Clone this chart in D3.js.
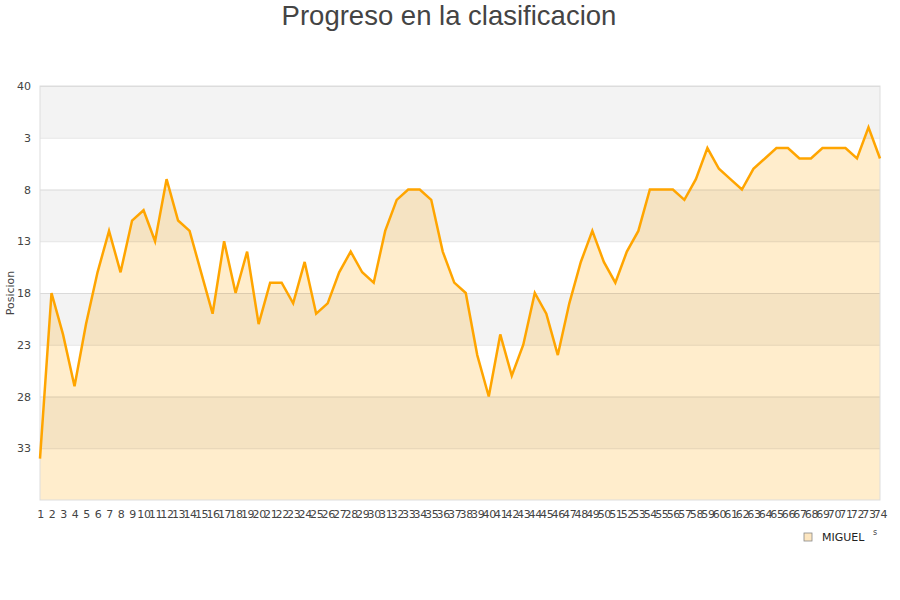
<!DOCTYPE html>
<html>
<head>
<meta charset="utf-8">
<script src="https://cdn.jsdelivr.net/npm/d3@7"></script>
<style>
  body { margin: 0; background: #fff; }
  text { font-family: "DejaVu Sans", sans-serif; }
  .titulo { font-family: "Liberation Sans", Arial, sans-serif; }
</style>
</head>
<body>
<div id="chart"></div>
<script>
const jornadas = d3.range(1, 75);
const posiciones = [34, 18, 22, 27, 21, 16, 12, 16, 11, 10,
                    13, 7, 11, 12, 16, 20, 13, 18, 14, 21,
                    17, 17, 19, 15, 20, 19, 16, 14, 16, 17,
                    12, 9, 8, 8, 9, 14, 17, 18, 24, 28,
                    22, 26, 23, 18, 20, 24, 19, 15, 12, 15,
                    17, 14, 12, 8, 8, 8, 9, 7, 4, 6,
                    7, 8, 6, 5, 4, 4, 5, 5, 4, 4,
                    4, 5, 2, 5];
const yTicks = [-2, 3, 8, 13, 18, 23, 28, 33];
const yTickLabels = ["40", "3", "8", "13", "18", "23", "28", "33"];
const serie = "MIGUEL";

const width = 900;
const height = 600;
const margin = { top: 86, right: 20, bottom: 100, left: 40 };

const svg = d3.select("#chart")
    .append("svg")
    .attr("width", width)
    .attr("height", height);

const xScale = d3.scaleLinear()
    .domain([1, 74])
    .range([margin.left, width - margin.right]);
const yScale = d3.scaleLinear()
    .domain([-2, 38])
    .range([margin.top, height - margin.bottom]);

// bandas alternas
svg.append("g")
    .selectAll("rect")
    .data(yTicks.filter((d, i) => i % 2 === 0))
    .enter()
    .append("rect")
    .attr("x", xScale(1))
    .attr("width", xScale(74) - xScale(1))
    .attr("y", d => yScale(d))
    .attr("height", d => yScale(d + 5) - yScale(d))
    .attr("fill", "#f3f3f3");

// area
const area = d3.area()
    .x((d, i) => xScale(jornadas[i]))
    .y0(yScale(38))
    .y1(d => yScale(d));

svg.append("path")
    .datum(posiciones)
    .attr("d", area)
    .attr("fill", "rgba(255,165,0,0.2)");

// grid + eje y
const yAxis = d3.axisLeft(yScale)
    .tickValues(yTicks)
    .tickSize(-(xScale(74) - xScale(1)))
    .tickPadding(9)
    .tickFormat((d, i) => yTickLabels[i]);

svg.append("g")
    .attr("transform", `translate(${xScale(1)}, 0)`)
    .call(yAxis)
    .call(g => g.select(".domain").remove())
    .call(g => g.selectAll("line").attr("stroke", "#000").attr("stroke-opacity", 0.1))
    .call(g => g.selectAll("text").attr("fill", "#444").attr("font-size", 11));

// marco
svg.append("rect")
    .attr("x", xScale(1))
    .attr("y", yScale(-2))
    .attr("width", xScale(74) - xScale(1))
    .attr("height", yScale(38) - yScale(-2))
    .attr("fill", "none")
    .attr("stroke", "#ddd");

// linea
const line = d3.line()
    .x((d, i) => xScale(jornadas[i]))
    .y(d => yScale(d));

svg.append("path")
    .datum(posiciones)
    .attr("d", line)
    .attr("fill", "none")
    .attr("stroke", "#ffa500")
    .attr("stroke-width", 2.5);

// eje x
const xAxis = d3.axisBottom(xScale)
    .tickValues(jornadas)
    .tickSize(0)
    .tickPadding(10)
    .tickFormat(d3.format("d"));

svg.append("g")
    .attr("transform", `translate(0, ${yScale(38)})`)
    .call(xAxis)
    .call(g => g.select(".domain").remove())
    .call(g => g.selectAll("text").attr("fill", "#444").attr("font-size", 11).attr("letter-spacing", -0.3));

// titulos
svg.append("text")
    .attr("class", "titulo")
    .attr("x", 449)
    .attr("y", 25)
    .attr("text-anchor", "middle")
    .attr("font-size", 27.5)
    .attr("fill", "#444")
    .text("Progreso en la clasificacion");

svg.append("text")
    .attr("transform", `translate(14, ${(yScale(-2) + yScale(38)) / 2}) rotate(-90)`)
    .attr("text-anchor", "middle")
    .attr("font-size", 11)
    .attr("fill", "#444")
    .text("Posicion");

// leyenda
const legend = svg.append("g").attr("transform", "translate(804, 533)");
legend.append("rect")
    .attr("width", 8)
    .attr("height", 8)
    .attr("fill", "#fde6c0")
    .attr("stroke", "#888")
    .attr("stroke-width", 0.8);
legend.append("text")
    .attr("x", 18)
    .attr("y", 8)
    .attr("font-size", 11)
    .attr("fill", "#222")
    .text(serie);
legend.append("text")
    .attr("x", 69)
    .attr("y", 2)
    .attr("font-size", 8)
    .attr("fill", "#444")
    .text("s");
</script>
</body>
</html>
